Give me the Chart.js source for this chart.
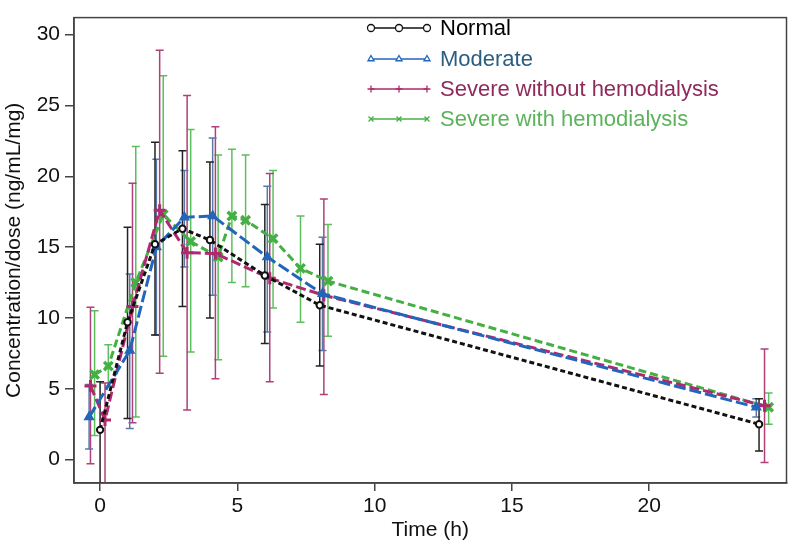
<!DOCTYPE html>
<html>
<head>
<meta charset="utf-8">
<script src="https://cdn.jsdelivr.net/npm/chart.js@4/dist/chart.umd.min.js"></script>
<style>
  html, body { margin: 0; padding: 0; background: #fff; }
  #wrap { width: 796px; height: 549px; }
</style>
</head>
<body>
<div id="wrap"><canvas id="chart"></canvas></div>
<script>
// tick labels
const xTicks = [0, 5, 10, 15, 20];
const yTicks = [0, 5, 10, 15, 20, 25, 30];

// Normal
const normalX = [0, 1, 2, 3, 4, 6, 8, 24];
const normalY = [2.1, 9.7, 15.2, 16.3, 15.5, 13.0, 10.9, 2.5];
const normalLo = [-3, 2.9, 8.8, 10.8, 10.0, 8.2, 6.6, 0.6];
const normalHi = [5.5, 16.4, 22.4, 21.8, 21.0, 18.0, 15.2, 4.3];

// Moderate
const moderateX = [-0.4, 1.08, 2.05, 3.07, 4.1, 6.09, 8.1, 23.9];
const moderateY = [3.0, 7.7, 15.0, 17.1, 17.2, 14.3, 11.7, 3.7];
const moderateLo = [0.75, 2.2, 8.8, 13.6, 11.6, 9.0, 7.7, 3.0];
const moderateHi = [5.3, 13.1, 21.2, 20.4, 22.7, 19.3, 15.7, 4.3];

// Severe without hemodialysis
const severeX = [-0.35, 0.18, 1.18, 2.17, 3.17, 4.2, 6.18, 8.15, 24.2];
const severeY = [5.2, 2.8, 10.8, 17.6, 14.6, 14.55, 12.8, 11.6, 3.8];
const severeLo = [-0.3, -3, 2.6, 6.1, 3.5, 5.7, 5.5, 4.6, -0.2];
const severeHi = [10.75, 5.4, 19.5, 28.9, 25.7, 23.5, 20.2, 18.4, 7.8];

// Severe with hemodialysis
const hemoX = [-0.2, 0.3, 1.3, 2.3, 3.3, 4.3, 4.8, 5.3, 6.3, 7.3, 8.3, 24.35];
const hemoY = [6.0, 6.6, 12.5, 17.3, 15.4, 14.3, 17.2, 16.9, 15.6, 13.5, 12.6, 3.7];
const hemoLo = [1.7, 5.2, 3.0, 7.3, 7.6, 7.05, 12.5, 12.2, 10.7, 9.7, 8.7, 2.5];
const hemoHi = [10.5, 8.1, 22.1, 27.1, 23.3, 21.5, 21.9, 21.5, 20.4, 17.2, 16.6, 4.7];

const FONT = "'Liberation Sans', Arial, sans-serif";

function pts(xs, ys) {
    return xs.map((x, i) => ({ x: x, y: ys[i] }));
}

const series = [
    {
        label: 'Normal', x: normalX, y: normalY, lo: normalLo, hi: normalHi,
        color: '#111111', errColor: '#222222', textColor: '#000000',
        pointStyle: 'circle', radius: 3.2, pointBorder: 2, pointFill: '#ffffff',
        dash: [5, 3], legendStyle: 'circle'
    },
    {
        label: 'Moderate', x: moderateX, y: moderateY, lo: moderateLo, hi: moderateHi,
        color: '#2266bb', errColor: '#5a78a8', textColor: '#2a5d80',
        pointStyle: 'triangle', radius: 5, pointBorder: 1.5, pointFill: '#2266bb',
        dash: [12, 4], legendStyle: 'triangle'
    },
    {
        label: 'Severe without hemodialysis', x: severeX, y: severeY, lo: severeLo, hi: severeHi,
        color: '#b0286e', errColor: '#b0407a', textColor: '#8e2a5c',
        pointStyle: 'cross', radius: 6, pointBorder: 3, pointFill: '#b0286e',
        dash: [10, 4], legendStyle: 'cross'
    },
    {
        label: 'Severe with hemodialysis', x: hemoX, y: hemoY, lo: hemoLo, hi: hemoHi,
        color: '#44b044', errColor: '#5cbf5c', textColor: '#5cb35c',
        pointStyle: 'crossRot', radius: 6, pointBorder: 3.5, pointFill: '#44b044',
        dash: [8, 4], legendStyle: 'crossRot'
    }
];

// error bars drawn under the lines, through the chart's scales
const errorBars = {
    id: 'errorBars',
    beforeDatasetsDraw(chart) {
        const ctx = chart.ctx;
        const xs = chart.scales.x, ys = chart.scales.y;
        const area = chart.chartArea;
        ctx.save();
        ctx.beginPath();
        ctx.rect(area.left, area.top, area.right - area.left, area.bottom - area.top);
        ctx.clip();
        chart.data.datasets.slice().reverse().forEach(ds => {
            ctx.strokeStyle = ds.errColor;
            ctx.lineWidth = 1.5;
            ds.data.forEach((p, i) => {
                const px = xs.getPixelForValue(p.x);
                const top = ys.getPixelForValue(ds.errHi[i]);
                const bot = ys.getPixelForValue(ds.errLo[i]);
                ctx.beginPath();
                ctx.moveTo(px, top); ctx.lineTo(px, bot);
                ctx.moveTo(px - 4, top); ctx.lineTo(px + 4, top);
                ctx.moveTo(px - 4, bot); ctx.lineTo(px + 4, bot);
                ctx.stroke();
            });
        });
        ctx.restore();
    }
};

// frame around the plot and legend inside it
const frameAndLegend = {
    id: 'frameAndLegend',
    afterDraw(chart) {
        const ctx = chart.ctx;
        const a = chart.chartArea;
        ctx.save();
        ctx.strokeStyle = '#444';
        ctx.lineWidth = 1.5;
        ctx.strokeRect(a.left, a.top, a.right - a.left, a.bottom - a.top);

        const x0 = 371, x1 = 427, textX = 440;
        const rows = [28, 59, 89, 119];
        series.forEach((s, i) => {
            const y = rows[i];
            ctx.strokeStyle = s.color;
            ctx.lineWidth = 1.5;
            ctx.setLineDash([]);
            ctx.beginPath();
            ctx.moveTo(x0, y); ctx.lineTo(x1, y);
            ctx.stroke();
            [x0, (x0 + x1) / 2, x1].forEach(mx => {
                ctx.fillStyle = '#ffffff';
                ctx.strokeStyle = s.color;
                ctx.lineWidth = 1.3;
                Chart.helpers.drawPoint(ctx, {
                    pointStyle: s.legendStyle, radius: 3.5, rotation: 0, borderWidth: 1.3
                }, mx, y);
            });
            ctx.fillStyle = s.textColor;
            ctx.font = '22px ' + FONT;
            ctx.textAlign = 'left';
            ctx.textBaseline = 'middle';
            ctx.fillText(s.label, textX, y + 1);
        });
        ctx.restore();
    }
};

const datasets = series.map(s => ({
    label: s.label,
    data: pts(s.x, s.y),
    errLo: s.lo,
    errHi: s.hi,
    errColor: s.errColor,
    showLine: true,
    borderColor: s.color,
    borderWidth: 3,
    borderDash: s.dash,
    backgroundColor: s.pointFill,
    pointStyle: s.pointStyle,
    pointRadius: s.radius,
    pointBorderWidth: s.pointBorder,
    pointBorderColor: s.color,
    pointBackgroundColor: s.pointFill,
    tension: 0
}));

const ctx = document.getElementById('chart').getContext('2d');
new Chart(ctx, {
    type: 'scatter',
    data: { datasets: datasets },
    options: {
        responsive: true,
        maintainAspectRatio: false,
        animation: false,
        layout: { padding: { top: 5, right: 7, left: 0, bottom: 0 } },
        plugins: {
            legend: { display: false },
            tooltip: { enabled: false }
        },
        scales: {
            x: {
                type: 'linear',
                min: -0.95,
                max: 25,
                afterBuildTicks: s => { s.ticks = xTicks.map(v => ({ value: v })); },
                afterFit: s => { s.height = 66; },
                ticks: { font: { family: FONT, size: 21 }, color: '#111', padding: 3 },
                grid: { drawOnChartArea: false, drawTicks: true, tickLength: 8, color: '#444', lineWidth: 1.5 },
                border: { display: true, color: '#444', width: 1.5 },
                title: {
                    display: true, text: 'Time (h)', color: '#111',
                    font: { family: FONT, size: 21 }, padding: { top: 0, bottom: 6 }
                }
            },
            y: {
                type: 'linear',
                min: -1.65,
                max: 31.2,
                afterBuildTicks: s => { s.ticks = yTicks.map(v => ({ value: v })); },
                afterFit: s => { s.width = 74; },
                ticks: { font: { family: FONT, size: 21 }, color: '#111', padding: 5 },
                grid: { drawOnChartArea: false, drawTicks: true, tickLength: 9, color: '#444', lineWidth: 1.5 },
                border: { display: true, color: '#444', width: 1.5 },
                title: {
                    display: true, text: 'Concentration/dose (ng/mL/mg)', color: '#111',
                    font: { family: FONT, size: 21 }, padding: { top: 2, bottom: 0 }
                }
            }
        }
    },
    plugins: [errorBars, frameAndLegend]
});
</script>
</body>
</html>
